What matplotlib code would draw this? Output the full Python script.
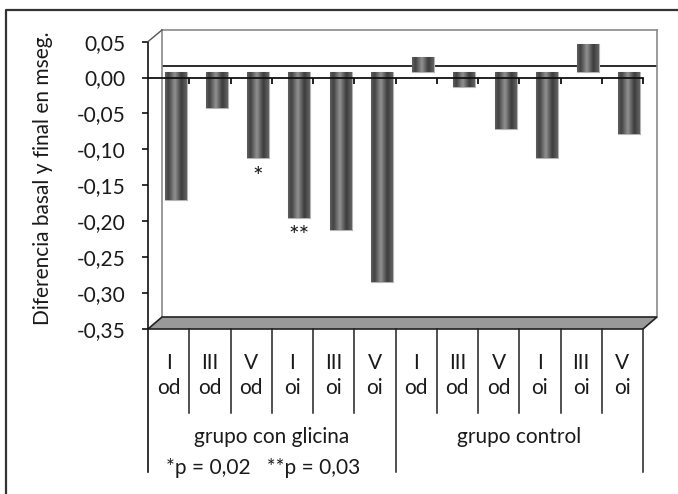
import matplotlib
matplotlib.use("Agg")
import matplotlib.pyplot as plt
import numpy as np
from matplotlib.colors import LinearSegmentedColormap
from matplotlib.lines import Line2D
from matplotlib.patches import Polygon
from matplotlib.transforms import blended_transform_factory

# ---------------- data ----------------
vertebra = ["I", "III", "V", "I", "III", "V", "I", "III", "V", "I", "III", "V"]
eye = ["od", "od", "od", "oi", "oi", "oi", "od", "od", "od", "oi", "oi", "oi"]
groups = ["grupo con glicina", "grupo control"]
glicina_vals = [-0.178, -0.050, -0.120, -0.203, -0.220, -0.293]
control_vals = [0.021, -0.021, -0.079, -0.120, 0.039, -0.086]
marks = ["", "", "*", "**", "", "", "", "", "", "", "", ""]
yticks = [0.05, 0.00, -0.05, -0.10, -0.15, -0.20, -0.25, -0.30, -0.35]
ylabel = "Diferencia basal y final en mseg."
footnote = "*p = 0,02   **p = 0,03"

values = glicina_vals + control_vals
n = len(values)
x = np.arange(n)

W, H = 678, 494
FS = 15
TXT = "#1a1a1a"
plt.rcParams['font.family'] = ['Lato', 'DejaVu Sans']
fig = plt.figure(figsize=(W / 100, H / 100), dpi=100)


def rect(x0, x1, ytop, ybot):
    return [x0 / W, 1 - ybot / H, (x1 - x0) / W, (ybot - ytop) / H]


def fx(px):
    return px / W


def fy(py):
    return 1 - py / H


YMIN, YMAX = -0.35, 0.05
XL, XR = -0.5, n - 0.5

# back wall axes (depth offset)
ax_back = fig.add_axes(rect(162, 657, 30, 317), zorder=1)
# bar axes (mid depth)
ax_bar = fig.add_axes(rect(155, 650, 36, 323), zorder=2)
# front axes
ax_front = fig.add_axes(rect(148, 643, 41.6, 329), zorder=3)

for a in (ax_back, ax_bar, ax_front):
    a.set_xlim(XL, XR)
    a.set_ylim(YMIN, YMAX)
    a.patch.set_alpha(0)

# back wall
for s in ("left", "top", "right"):
    ax_back.spines[s].set_color("#8a8a8a")
    ax_back.spines[s].set_linewidth(1.2)
ax_back.spines["bottom"].set_visible(False)
ax_back.set_xticks([])
ax_back.set_yticks([])
ax_back.axhline(0, color="#1a1a1a", lw=1.3)

# floor
ftr = fig.transFigure
floor = Polygon([(fx(148), fy(329)), (fx(643), fy(329)), (fx(657), fy(317)), (fx(162), fy(317))],
                closed=True, transform=ftr, facecolor="#9a9a9a", edgecolor="#222222", lw=1.2, zorder=1.5)
fig.patches.append(floor)

# bars
for s in ax_bar.spines.values():
    s.set_visible(False)
ax_bar.set_xticks([])
ax_bar.set_yticks([])
cmap = LinearSegmentedColormap.from_list("cyl", [(0.0, "#606060"), (0.15, "#414141"),
                                                 (0.45, "#929292"), (0.75, "#3b3b3b"),
                                                 (1.0, "#646464")])
grad = np.linspace(0, 1, 64).reshape(1, -1)
bw = 0.53
bars = ax_bar.bar(x, values, width=bw, color="#4a4a4a", edgecolor="#b5b5b5", linewidth=0.8, zorder=2)
for b, v in zip(bars, values):
    x0 = b.get_x()
    im = ax_bar.imshow(grad, cmap=cmap, aspect="auto", extent=(x0, x0 + bw, min(0, v), max(0, v)),
                       zorder=2.5, interpolation="bicubic")
    im.set_clip_path(b)
ax_bar.set_xlim(XL, XR)
ax_bar.set_ylim(YMIN, YMAX)
for xi, v, m in zip(x, values, marks):
    if m:
        ax_bar.annotate(m, (xi, v), xytext=(0, -14), textcoords="offset points",
                        ha="center", va="center", fontsize=18, color=TXT)

# front axes: y axis and zero line with ticks
ax_front.spines["left"].set_visible(False)
ax_front.spines["right"].set_visible(False)
ax_front.spines["top"].set_visible(False)
ax_front.spines["bottom"].set_position(("data", 0))
ax_front.spines["bottom"].set_color("#111111")
ax_front.spines["bottom"].set_linewidth(1.3)
ax_front.set_xticks(np.arange(n) + 0.5)
ax_front.tick_params(axis="x", direction="out", length=4.5, width=1.3, color="#111111", labelbottom=False)
ax_front.set_yticks(yticks)
ax_front.set_yticklabels([f"{t:.2f}".replace(".", ",") for t in yticks])
ax_front.tick_params(axis="y", direction="out", length=4, width=1.2, color="#111111",
                     labelsize=FS, pad=12, labelcolor=TXT)

# y axis line (extended down), top diagonal
fig.lines.append(Line2D([fx(148), fx(148)], [fy(41.6), fy(472)], transform=ftr, color="#111111", lw=1.2, zorder=5))
fig.lines.append(Line2D([fx(148), fx(162)], [fy(41.6), fy(30)], transform=ftr, color="#555555", lw=1.0, zorder=5))

# category separators and labels
bt = blended_transform_factory(ax_front.transData, ftr)
for k in range(1, n):
    yb = 472 if k == n // 2 else 413
    fig.lines.append(Line2D([k - 0.5, k - 0.5], [fy(329), fy(yb)], transform=bt, color="#222222", lw=1.1, zorder=5))
fig.lines.append(Line2D([XR, XR], [fy(329), fy(472)], transform=bt, color="#222222", lw=1.1, zorder=5))
for xi, a, b in zip(x, vertebra, eye):
    fig.text(xi, fy(363), a, transform=bt, ha="center", va="center", fontsize=FS, color=TXT)
    fig.text(xi, fy(388), b, transform=bt, ha="center", va="center", fontsize=FS, color=TXT)
half = n // 2
fig.text((half - 1) / 2, fy(437), groups[0], transform=bt, ha="center", va="center", fontsize=FS, color=TXT)
fig.text(half + (half - 1) / 2, fy(437), groups[1], transform=bt, ha="center", va="center", fontsize=FS, color=TXT)
fig.text(fx(263), fy(468), footnote, ha="center", va="center", fontsize=FS, color=TXT)

# y label
fig.text(fx(43), fy(178), ylabel, rotation=90, ha="center", va="center", fontsize=FS, color=TXT)

# outer frame
fig.lines.append(Line2D([fx(6), fx(6), fx(678)], [fy(494), fy(10), fy(10)], transform=ftr,
                        color="#333333", lw=1.6, zorder=6))

fig.savefig("out.png", dpi=100)
